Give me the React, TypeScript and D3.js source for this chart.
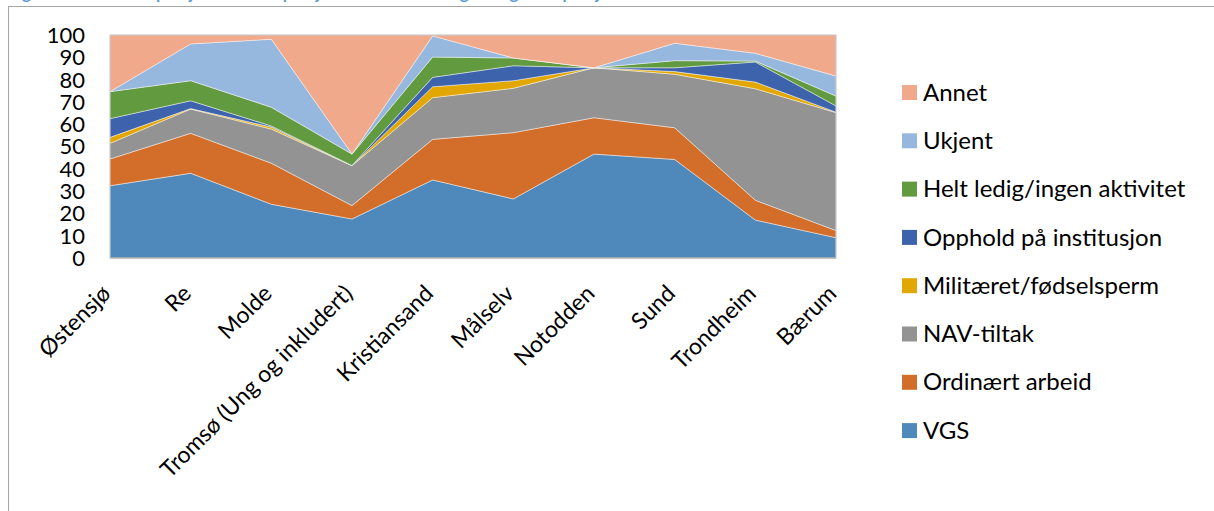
import React from "react";
import * as d3 from "d3";

const categories = [
  "Østensjø",
  "Re",
  "Molde",
  "Tromsø (Ung og inkludert)",
  "Kristiansand",
  "Målselv",
  "Notodden",
  "Sund",
  "Trondheim",
  "Bærum",
];

const seriesNames = [
  "VGS",
  "Ordinært arbeid",
  "NAV-tiltak",
  "Militæret/fødselsperm",
  "Opphold på institusjon",
  "Helt ledig/ingen aktivitet",
  "Ukjent",
  "Annet",
];

const vgs = [32.4, 38.0, 24.1, 17.5, 35.0, 26.5, 46.6, 44.2, 17.0, 9.1];
const ordinaert = [12.0, 17.9, 18.4, 6.0, 18.2, 29.7, 16.3, 14.2, 8.9, 3.2];
const navTiltak = [7.0, 10.9, 15.3, 17.9, 18.7, 19.9, 22.4, 24.0, 50.0, 52.9];
const militaeret = [2.7, 0.2, 0.9, 0, 4.9, 3.4, 0, 1.2, 3.0, 0.2];
const opphold = [8.4, 3.5, 0.5, 0.1, 4.2, 6.7, 0, 1.7, 9.0, 2.8];
const heltLedig = [12.1, 9.0, 8.4, 5.1, 9.1, 3.5, 0, 3.2, 0.4, 4.4];
const ukjent = [0, 16.5, 30.5, 0, 9.5, 0, 0, 7.8, 3.5, 9.0];
const annet = [25.4, 4.0, 1.9, 53.4, 0.4, 10.3, 14.7, 3.7, 8.2, 18.4];

const seriesValues = [vgs, ordinaert, navTiltak, militaeret, opphold, heltLedig, ukjent, annet];

const colors = [
  "#4F89BC",
  "#D26E2A",
  "#939393",
  "#E2A702",
  "#3D63AD",
  "#629A40",
  "#97B8DE",
  "#F0A98B",
];

const yTicks = [0, 10, 20, 30, 40, 50, 60, 70, 80, 90, 100];

const legendOrder = [...seriesNames].reverse();

const titleText =
  "Figur 6 Status etter prosjektstart for prosjektdeltakerne i Ungdomsgarantiprosjektene";

export default function App() {
  const W = 1214;
  const H = 511;
  const left = 110;
  const right = 836;
  const top = 35;
  const bottom = 258;

  const x = d3.scalePoint<string>().domain(categories).range([left, right]);
  const y = d3.scaleLinear().domain([0, 100]).range([bottom, top]);

  const rows = categories.map((c, i) => {
    const r: Record<string, number | string> = { cat: c };
    seriesNames.forEach((s, j) => {
      r[s] = seriesValues[j][i];
    });
    return r;
  });

  const stacked = d3.stack<any>().keys(seriesNames)(rows);
  const area = d3
    .area<any>()
    .x((d) => x(d.data.cat) as number)
    .y0((d) => y(d[0]))
    .y1((d) => y(d[1]));

  const font = "Lato, 'Open Sans', sans-serif";
  const legendX = 902;
  const legendY0 = 92;
  const legendStep = 48.3;

  return (
    <svg
      width={W}
      height={H}
      style={{ position: "absolute", left: 0, top: 0, background: "#fff" }}
      fontFamily={font}
    >
      <text x={8} y={-1} fontSize={17} fontWeight="bold" fill="#5B9BD5">
        {titleText}
      </text>
      <rect x={8.5} y={6.5} width={W} height={H} fill="none" stroke="#A6A6A6" strokeWidth={1} />

      {stacked.map((s, i) => (
        <path
          key={s.key}
          d={area(s) || ""}
          fill={colors[i]}
          stroke="rgba(255,255,255,0.55)"
          strokeWidth={0.8}
        />
      ))}

      <rect
        x={left}
        y={top}
        width={right - left}
        height={bottom - top}
        fill="none"
        stroke="#BFBFBF"
        strokeWidth={1}
      />
      <line x1={left} x2={right} y1={bottom} y2={bottom} stroke="#A6A6A6" strokeWidth={1.2} />

      {yTicks.map((t) => (
        <text
          key={t}
          x={85}
          y={y(t)}
          dy="0.36em"
          textAnchor="end"
          fontSize={22}
          fill="#000"
        >
          {t}
        </text>
      ))}

      {categories.map((c) => (
        <text
          key={c}
          transform={`translate(${(x(c) as number) + 2},${295}) rotate(-45)`}
          textAnchor="end"
          fontSize={23}
          fill="#000"
        >
          {c}
        </text>
      ))}

      {legendOrder.map((name, i) => {
        const idx = seriesNames.indexOf(name);
        const cy = legendY0 + i * legendStep;
        return (
          <g key={name}>
            <rect x={legendX} y={cy - 7} width={15} height={15} fill={colors[idx]} />
            <text x={legendX + 21} y={cy} dy="0.36em" fontSize={24} fill="#000">
              {name}
            </text>
          </g>
        );
      })}
    </svg>
  );
}
